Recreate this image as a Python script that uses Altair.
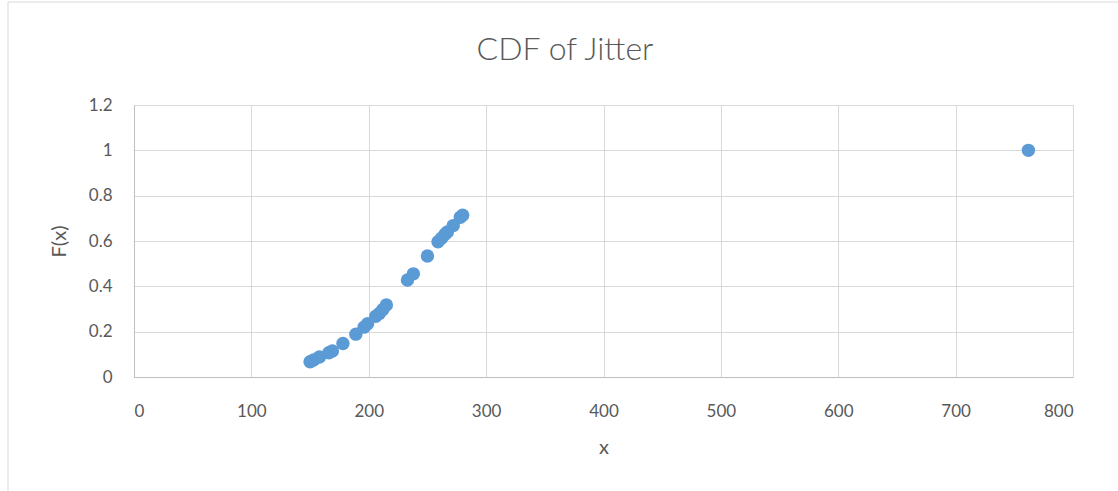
import altair as alt
import pandas as pd

x_vals = [150, 153, 158, 166, 169, 178, 189, 196, 199, 206, 209, 212, 215,
          233, 238, 250, 259, 262, 265, 267, 272, 278, 280, 762]
f_vals = [0.067, 0.075, 0.088, 0.107, 0.115, 0.148, 0.189, 0.22, 0.235, 0.268, 0.28, 0.298, 0.318,
          0.428, 0.455, 0.534, 0.597, 0.612, 0.63, 0.64, 0.668, 0.705, 0.714, 1.0]
x_ticks = [0, 100, 200, 300, 400, 500, 600, 700, 800]
y_ticks = [0, 0.2, 0.4, 0.6, 0.8, 1, 1.2]
title_text = "CDF of Jitter"

df = pd.DataFrame({"x": x_vals, "F": f_vals})

font = "Lato"
txt = "#595959"

points = alt.Chart(df).mark_circle(size=180, opacity=1, color="#5b9bd5").encode(
    x=alt.X("x:Q", title="x",
            scale=alt.Scale(domain=[0, 800], nice=False),
            axis=alt.Axis(values=x_ticks,
                          grid=True, gridColor="#d9d9d9", domainColor="#bfbfbf",
                          ticks=False, labelPadding=26, labelFontSize=17,
                          labelColor=txt, labelFont=font, titleFont=font,
                          titleFontSize=20, titleColor=txt, titleFontWeight="normal",
                          titlePadding=18)),
    y=alt.Y("F:Q", title="F(x)",
            scale=alt.Scale(domain=[0, 1.2], nice=False),
            axis=alt.Axis(values=y_ticks, format="~g",
                          grid=True, gridColor="#d9d9d9", domainColor="#bfbfbf",
                          ticks=False, labelPadding=22, labelFontSize=17,
                          labelColor=txt, labelFont=font, titleFont=font,
                          titleFontSize=20, titleColor=txt, titleFontWeight="normal",
                          titlePadding=19)),
)

border = alt.Chart(pd.DataFrame({"a": [0]})).mark_rect(
    fill=None, stroke="#d9d9d9", strokeWidth=1
).encode(
    x=alt.value(-126), x2=alt.value(1000),
    y=alt.value(-103), y2=alt.value(420),
)

title = alt.Chart(pd.DataFrame({"t": [title_text]})).mark_text(
    font=font, fontSize=32, fontWeight=300, color=txt,
    align="center", baseline="middle"
).encode(
    text="t:N", x=alt.value(431), y=alt.value(-55),
)

chart = alt.layer(border, points, title).properties(
    width=939, height=272,
    autosize=alt.AutoSizeParams(type="none"),
    padding={"left": 134, "top": 105, "right": 45, "bottom": 114},
).configure_view(stroke=None).configure(background="white")

chart.save("out.html", embed_options={"renderer": "svg", "actions": False})
